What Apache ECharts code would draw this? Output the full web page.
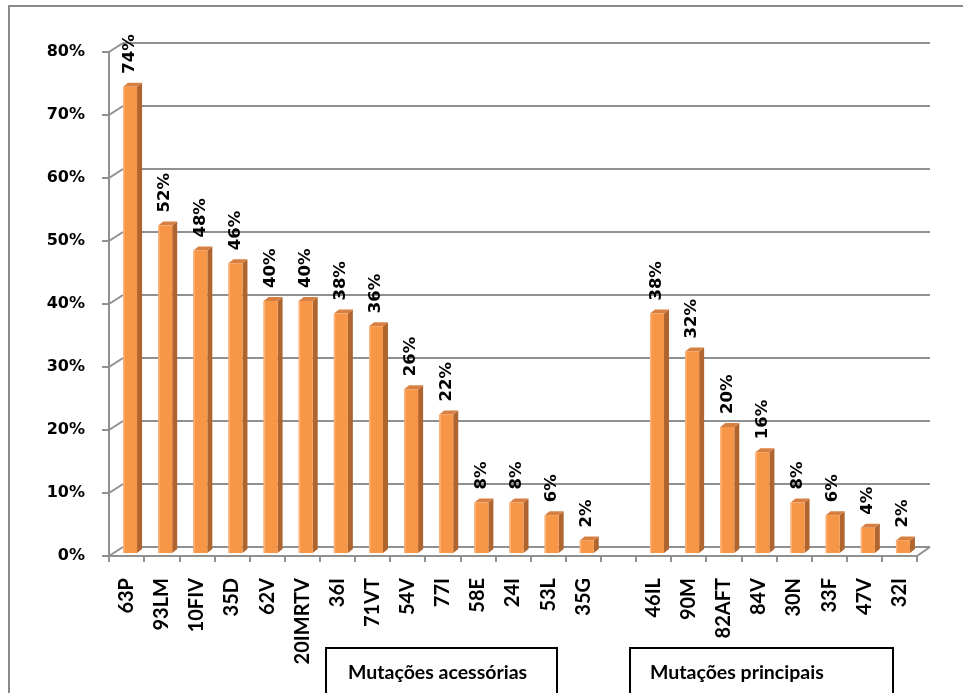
<!DOCTYPE html>
<html>
<head>
<meta charset="utf-8">
<script src="https://cdn.jsdelivr.net/npm/echarts@6/dist/echarts.min.js"></script>
<style>
  html, body { margin: 0; padding: 0; background: #fff; }
  #chart { width: 963px; height: 693px; }
</style>
</head>
<body>
<div id="chart"></div>
<script>
// Mutation categories (an empty slot separates the two groups)
const categories = ['63P', '93LM', '10FIV', '35D', '62V', '20IMRTV', '36I', '71VT', '54V', '77I',
  '58E', '24I', '53L', '35G', '', '46IL', '90M', '82AFT', '84V', '30N', '33F', '47V', '32I'];
// Prevalence of each mutation (fraction); null = spacer slot
const prevalence = [0.74, 0.52, 0.48, 0.46, 0.40, 0.40, 0.38, 0.36, 0.26, 0.22,
  0.08, 0.08, 0.06, 0.02, null, 0.38, 0.32, 0.20, 0.16, 0.08, 0.06, 0.04, 0.02];
// Y axis ticks
const yTicks = [0, 0.1, 0.2, 0.3, 0.4, 0.5, 0.6, 0.7, 0.8];
// Group captions
const groupLabels = ['Mutações acessórias', 'Mutações principais'];

const pct = v => Math.round(v * 100) + '%';

// depth of the back wall relative to the front axis plane
const DEPTH_X = 14, DEPTH_Y = 9;
const GRID_COLOR = '#909090';

const chart = echarts.init(document.getElementById('chart'));

const barData = [];
prevalence.forEach((v, i) => { if (v !== null) barData.push([i, v]); });

chart.setOption({
  animation: false,
  backgroundColor: '#ffffff',
  grid: { left: 109, top: 52, width: 808, height: 504 },
  xAxis: {
    type: 'category',
    data: categories,
    boundaryGap: true,
    axisLine: { lineStyle: { color: GRID_COLOR, width: 2 } },
    axisTick: { show: true, length: 6, interval: 0, lineStyle: { color: GRID_COLOR, width: 2 } },
    axisLabel: {
      interval: 0, rotate: 90, margin: 22,
      fontFamily: 'Lato', fontWeight: 'bold', fontSize: 20, color: '#000'
    },
    splitLine: { show: false }
  },
  yAxis: {
    type: 'value',
    min: 0, max: 0.8, interval: 0.1,
    axisLine: { show: true, lineStyle: { color: GRID_COLOR, width: 2 } },
    axisTick: { show: true, length: 7, lineStyle: { color: GRID_COLOR, width: 2 } },
    axisLabel: {
      margin: 24, formatter: v => pct(v),
      fontFamily: 'DejaVu Sans', fontWeight: 'bold', fontSize: 16, color: '#000'
    },
    splitLine: { show: false }
  },
  graphic: [
    // outer frame
    { type: 'rect', shape: { x: 9, y: 6, width: 970, height: 700 },
      style: { fill: 'none', stroke: '#8a8a8a', lineWidth: 2 }, z: 0 },
    // group caption boxes
    { type: 'group', left: 325, top: 647, children: [
      { type: 'rect', shape: { x: 0, y: 0, width: 231, height: 60 },
        style: { fill: '#fff', stroke: '#000', lineWidth: 2 } },
      { type: 'text', x: 22, y: 25, style: { text: groupLabels[0], fill: '#000',
        font: 'bold 19.5px Lato', verticalAlign: 'middle' } }
    ] },
    { type: 'group', left: 629, top: 647, children: [
      { type: 'rect', shape: { x: 0, y: 0, width: 263, height: 60 },
        style: { fill: '#fff', stroke: '#000', lineWidth: 2 } },
      { type: 'text', x: 20, y: 25, style: { text: groupLabels[1], fill: '#000',
        font: 'bold 19.5px Lato', verticalAlign: 'middle' } }
    ] }
  ],
  series: [
    {
      // back wall gridlines, their links to the axis ticks, and the floor edge
      type: 'custom',
      z: 1,
      silent: true,
      clip: false,
      data: yTicks.map(v => [0, v]),
      renderItem: (params, api) => {
        const cs = params.coordSys;
        const v = api.value(1);
        const y = api.coord([0, v])[1];
        const x0 = cs.x, x1 = cs.x + cs.width;
        const ls = { stroke: GRID_COLOR, lineWidth: 2 };
        const children = [
          { type: 'line', shape: { x1: x0, y1: y, x2: x0 + DEPTH_X, y2: y - DEPTH_Y }, style: ls },
          { type: 'line', shape: { x1: x0 + DEPTH_X, y1: y - DEPTH_Y, x2: x1 + DEPTH_X - 1, y2: y - DEPTH_Y }, style: ls }
        ];
        if (v === 0) {
          children.push({ type: 'line', shape: { x1: x1, y1: y, x2: x1 + DEPTH_X - 1, y2: y - DEPTH_Y }, style: ls });
        }
        return { type: 'group', children };
      }
    },
    {
      // 3D-look bars with rotated value labels
      type: 'custom',
      z: 2,
      clip: false,
      data: barData,
      renderItem: (params, api) => {
        const i = api.value(0), v = api.value(1);
        const top = api.coord([i, v]);
        const base = api.coord([i, 0]);
        const shiftX = 3.5, shiftY = -3;
        const w = 14, dx = 5, dy = 4;
        const left = top[0] - 7 + shiftX;
        const right = left + w;
        const yTop = top[1] + shiftY;
        const yBot = base[1] + shiftY;
        return {
          type: 'group',
          children: [
            // side face
            { type: 'polygon', shape: { points: [[right, yBot], [right, yTop], [right + dx, yTop - dy], [right + dx, yBot - dy]] },
              style: { fill: '#B0642E' } },
            // top face
            { type: 'polygon', shape: { points: [[left, yTop], [right, yTop], [right + dx, yTop - dy], [left + dx, yTop - dy]] },
              style: { fill: '#D88042' } },
            // front face
            { type: 'rect', shape: { x: left, y: yTop, width: w, height: yBot - yTop },
              style: { fill: '#F79646' } },
            // light left edge of front face
            { type: 'rect', shape: { x: left, y: yTop, width: 1.5, height: yBot - yTop },
              style: { fill: '#FBB37C' } },
            // value label
            { type: 'text', x: left + w / 2, y: yTop - 13, rotation: Math.PI / 2,
              style: { text: pct(v), fill: '#000', font: 'bold 16.5px "DejaVu Sans"',
                align: 'left', verticalAlign: 'middle' } }
          ]
        };
      }
    }
  ]
});
</script>
</body>
</html>
